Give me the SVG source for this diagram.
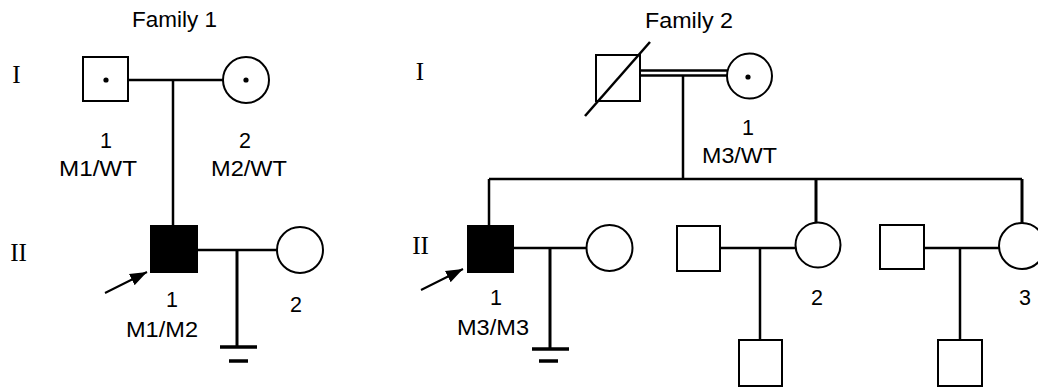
<svg xmlns="http://www.w3.org/2000/svg" width="1038" height="388" viewBox="0 0 1038 388">
<style>
.sym{fill:#fff;stroke:#000;stroke-width:2}
.aff{fill:#000;stroke:#000;stroke-width:2}
.ln{stroke:#000;stroke-width:2.5;fill:none}
.thk{stroke:#000;stroke-width:3;fill:none}
.bar{stroke:#000;stroke-width:3.5;fill:none}
.lbl{font-family:"Liberation Sans",Arial,sans-serif;font-size:21.5px;fill:#000}
.rom{font-family:"Liberation Serif","Times New Roman",serif;font-size:25px;fill:#000}
</style>
<defs>
<marker id="ah" viewBox="0 0 10 10" refX="10" refY="5" markerWidth="8.5" markerHeight="8.5" orient="auto" markerUnits="strokeWidth">
<path d="M0,1.3 L10,5 L0,8.7 z" fill="#000"/>
</marker>
</defs>
<rect width="1038" height="388" fill="#fff"/>
<g id="titles">
<text class="lbl" x="132" y="27" textLength="85" lengthAdjust="spacingAndGlyphs">Family 1</text>
<text class="lbl" x="645" y="28" textLength="88" lengthAdjust="spacingAndGlyphs">Family 2</text>
<text class="rom" x="16.5" y="83" text-anchor="middle">I</text>
<text class="rom" x="18.5" y="261" text-anchor="middle">II</text>
<text class="rom" x="420" y="80" text-anchor="middle">I</text>
<text class="rom" x="420.5" y="254" text-anchor="middle">II</text>
</g>
<g id="connectors">
<line class="ln" x1="128" y1="80" x2="223" y2="80"/>
<line class="ln" x1="173" y1="80" x2="173" y2="226"/>
<line class="ln" x1="197" y1="250" x2="277" y2="250"/>
<line class="thk" x1="237" y1="250" x2="237" y2="347"/>
<line class="bar" x1="220" y1="347" x2="257" y2="347"/>
<line class="bar" x1="229" y1="361" x2="248" y2="361"/>
<line stroke="#000" stroke-width="2" x1="105" y1="293" x2="147" y2="272" marker-end="url(#ah)"/>
<line class="ln" x1="640" y1="70.5" x2="727" y2="70.5"/>
<line class="ln" x1="640" y1="75.5" x2="727" y2="75.5"/>
<line class="ln" x1="683" y1="76" x2="683" y2="179"/>
<line class="ln" x1="489" y1="179" x2="1022" y2="179"/>
<line class="ln" x1="489" y1="179" x2="489" y2="226"/>
<line class="thk" x1="816" y1="179" x2="816" y2="222"/>
<line class="thk" x1="1022" y1="179" x2="1022" y2="223"/>
<line class="ln" x1="513" y1="248" x2="587" y2="248"/>
<line class="thk" x1="550" y1="248" x2="550" y2="349"/>
<line class="bar" x1="532" y1="349" x2="569" y2="349"/>
<line class="bar" x1="539" y1="361" x2="558" y2="361"/>
<line stroke="#000" stroke-width="2" x1="421" y1="290" x2="463" y2="269" marker-end="url(#ah)"/>
<line class="ln" x1="720" y1="248" x2="796" y2="248"/>
<line class="ln" x1="760" y1="248" x2="760" y2="340"/>
<line class="ln" x1="924" y1="248" x2="999" y2="248"/>
<line class="ln" x1="960" y1="248" x2="960" y2="340"/>
</g>
<g id="f1-I-1">
<rect class="sym" x="83" y="57" width="45" height="44"/>
<circle cx="106" cy="80" r="2.6" fill="#000"/>
<text class="lbl" x="106" y="148" text-anchor="middle">1</text>
<text class="lbl" x="59" y="176" textLength="78" lengthAdjust="spacingAndGlyphs">M1/WT</text>
</g>
<g id="f1-I-2">
<circle class="sym" cx="246" cy="80" r="23"/>
<circle cx="246" cy="80" r="2.6" fill="#000"/>
<text class="lbl" x="245" y="148" text-anchor="middle">2</text>
<text class="lbl" x="211" y="176" textLength="76" lengthAdjust="spacingAndGlyphs">M2/WT</text>
</g>
<g id="f1-II-1">
<rect class="aff" x="151" y="226" width="46" height="46"/>
<text class="lbl" x="172" y="307" text-anchor="middle">1</text>
<text class="lbl" x="126" y="337" textLength="72" lengthAdjust="spacingAndGlyphs">M1/M2</text>
</g>
<g id="f1-II-2">
<circle class="sym" cx="300" cy="250" r="23"/>
<text class="lbl" x="296" y="312" text-anchor="middle">2</text>
</g>
<g id="f2-I-father">
<rect class="sym" x="596" y="55" width="44" height="46"/>
<line class="ln" x1="585" y1="116" x2="650" y2="42"/>
</g>
<g id="f2-I-1">
<circle class="sym" cx="749.5" cy="76" r="22.5"/>
<circle cx="748" cy="77" r="2.6" fill="#000"/>
<text class="lbl" x="748" y="135" text-anchor="middle">1</text>
<text class="lbl" x="702" y="163" textLength="75" lengthAdjust="spacingAndGlyphs">M3/WT</text>
</g>
<g id="f2-II-1">
<rect class="aff" x="468" y="226" width="45" height="46"/>
<text class="lbl" x="496" y="305" text-anchor="middle">1</text>
<text class="lbl" x="457" y="335" textLength="72" lengthAdjust="spacingAndGlyphs">M3/M3</text>
</g>
<g id="f2-II-1-spouse">
<circle class="sym" cx="609.5" cy="248" r="23"/>
</g>
<g id="f2-II-2-spouse">
<rect class="sym" x="677" y="226" width="43" height="45"/>
</g>
<g id="f2-II-2">
<circle class="sym" cx="818" cy="245" r="22.5"/>
<text class="lbl" x="817" y="305" text-anchor="middle">2</text>
</g>
<g id="f2-III-1">
<rect class="sym" x="739" y="340" width="43" height="46"/>
</g>
<g id="f2-II-3-spouse">
<rect class="sym" x="880" y="225" width="44" height="44"/>
</g>
<g id="f2-II-3">
<circle class="sym" cx="1022" cy="246" r="23"/>
<text class="lbl" x="1025" y="305" text-anchor="middle">3</text>
</g>
<g id="f2-III-2">
<rect class="sym" x="938" y="340" width="44" height="46"/>
</g>
</svg>
